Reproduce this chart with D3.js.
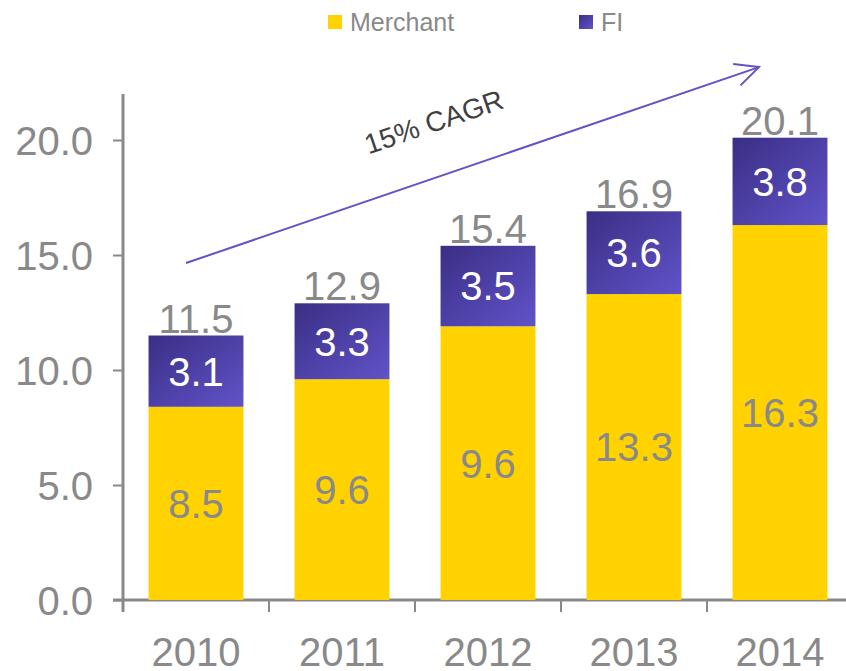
<!DOCTYPE html>
<html>
<head>
<meta charset="utf-8">
<script src="https://cdn.jsdelivr.net/npm/d3@7"></script>
<style>
  body { margin: 0; background: #fff; }
  text { font-family: "Liberation Sans", Arial, sans-serif; }
</style>
</head>
<body>
<div class="chart"></div>
<script>
var years = ["2010", "2011", "2012", "2013", "2014"];
var merchantLabels = [8.5, 9.6, 9.6, 13.3, 16.3];
var fi = [3.1, 3.3, 3.5, 3.6, 3.8];
var totals = [11.5, 12.9, 15.4, 16.9, 20.1];
var yTicks = [0, 5, 10, 15, 20];

var width = 846, height = 671;
var gray = "#898989";

var svg = d3.select(".chart").append("svg")
    .attr("width", width)
    .attr("height", height)
    .attr("display", "block");

var defs = svg.append("defs");
var grad = defs.append("linearGradient")
    .attr("id", "fiGrad")
    .attr("x1", 0).attr("y1", 0).attr("x2", 1).attr("y2", 1);
grad.append("stop").attr("offset", "0%").attr("stop-color", "#3a2e84");
grad.append("stop").attr("offset", "100%").attr("stop-color", "#6153c9");

var x = d3.scaleBand().domain(years).range([123, 853]).paddingInner(0.35).paddingOuter(0.175);
var y = d3.scaleLinear().domain([0, 22]).range([600, 94]);

var rows = years.map(function(yr, i) {
  return { year: yr, label: merchantLabels[i], fi: fi[i], total: totals[i], base: totals[i] - fi[i] };
});

// axes
var yAxis = d3.axisLeft(y).tickValues(yTicks).tickSize(10).tickSizeOuter(0).tickFormat(d3.format(".1f"));
var gy = svg.append("g").attr("transform", "translate(123,0)").call(yAxis);
gy.select(".domain").attr("stroke", gray).attr("stroke-width", 3).attr("d", "M0,94V612");
gy.selectAll(".tick line").attr("stroke", gray).attr("stroke-width", 2);
gy.selectAll(".tick text").attr("fill", gray).attr("font-size", 40).attr("x", -30).attr("dy", "0.36em");

var xAxis = d3.axisBottom(x).tickSize(0).tickSizeOuter(0);
var gx = svg.append("g").attr("transform", "translate(0,600)").call(xAxis);
gx.select(".domain").attr("stroke", gray).attr("stroke-width", 3).attr("d", "M113,0H846");
gx.selectAll(".tick line").remove();
gx.selectAll(".tick text").attr("fill", gray).attr("font-size", 40).attr("y", 66).attr("dy", 0);
// category separators
svg.selectAll("line.sep").data(years).enter().append("line")
    .attr("class", "sep")
    .attr("x1", function(d) { return x(d) - x.step() * 0.35 / 2; })
    .attr("x2", function(d) { return x(d) - x.step() * 0.35 / 2; })
    .attr("y1", 600).attr("y2", 612)
    .attr("stroke", gray).attr("stroke-width", 2);

// bars
svg.selectAll("rect.merchant").data(rows).enter().append("rect")
    .attr("class", "merchant")
    .attr("x", function(d) { return x(d.year); })
    .attr("width", x.bandwidth())
    .attr("y", function(d) { return y(d.base); })
    .attr("height", function(d) { return y(0) - y(d.base); })
    .attr("fill", "#ffd200");

svg.selectAll("rect.fi").data(rows).enter().append("rect")
    .attr("class", "fi")
    .attr("x", function(d) { return x(d.year); })
    .attr("width", x.bandwidth())
    .attr("y", function(d) { return y(d.total); })
    .attr("height", function(d) { return y(d.base) - y(d.total); })
    .attr("fill", "url(#fiGrad)");

// labels
var cx = function(d) { return x(d.year) + x.bandwidth() / 2; };
svg.selectAll("text.mlab").data(rows).enter().append("text")
    .attr("x", cx)
    .attr("y", function(d) { return (y(d.base) + y(0)) / 2; })
    .attr("dy", "0.36em")
    .attr("text-anchor", "middle")
    .attr("font-size", 40).attr("fill", gray)
    .text(function(d) { return d.label.toFixed(1); });

svg.selectAll("text.flab").data(rows).enter().append("text")
    .attr("x", cx)
    .attr("y", function(d) { return (y(d.base) + y(d.total)) / 2; })
    .attr("dy", "0.36em")
    .attr("text-anchor", "middle")
    .attr("font-size", 40).attr("fill", "#fff")
    .text(function(d) { return d.fi.toFixed(1); });

svg.selectAll("text.tlab").data(rows).enter().append("text")
    .attr("x", cx)
    .attr("y", function(d) { return y(d.total) - 3; })
    .attr("text-anchor", "middle")
    .attr("font-size", 40).attr("fill", gray)
    .text(function(d) { return d.total.toFixed(1); });

// CAGR arrow
var ax1 = x("2010") + x.bandwidth() / 2 - 10, ay1 = y(14.65);
var ax2 = x("2014") + x.bandwidth() / 2 - 21, ay2 = y(23.17);
var ang = Math.atan2(ay2 - ay1, ax2 - ax1);
var arrowColor = "#6352c6";
svg.append("line")
    .attr("x1", ax1).attr("y1", ay1).attr("x2", ax2).attr("y2", ay2)
    .attr("stroke", arrowColor).attr("stroke-width", 2);
var headLen = 26, headAng = 0.45;
svg.append("path")
    .attr("d", "M" + (ax2 - headLen * Math.cos(ang - headAng)) + "," + (ay2 - headLen * Math.sin(ang - headAng)) +
      "L" + ax2 + "," + ay2 +
      "L" + (ax2 - headLen * Math.cos(ang + headAng)) + "," + (ay2 - headLen * Math.sin(ang + headAng)))
    .attr("fill", "none").attr("stroke", arrowColor).attr("stroke-width", 2);

svg.append("text")
    .attr("transform", "translate(437,131) rotate(" + (ang * 180 / Math.PI) + ")")
    .attr("text-anchor", "middle")
    .attr("font-size", 28).attr("fill", "#404040")
    .text("15% CAGR");

// legend
var legend = [{ name: "Merchant", fill: "#ffd200", x: 328 }, { name: "FI", fill: "url(#fiGrad)", x: 579 }];
var lg = svg.selectAll("g.leg").data(legend).enter().append("g").attr("class", "leg")
    .attr("transform", function(d) { return "translate(" + d.x + ",15)"; });
lg.append("rect").attr("width", 14).attr("height", 14).attr("fill", function(d) { return d.fill; });
lg.append("text").attr("x", 22).attr("y", 16).attr("font-size", 25).attr("fill", gray)
    .text(function(d) { return d.name; });
</script>
</body>
</html>
